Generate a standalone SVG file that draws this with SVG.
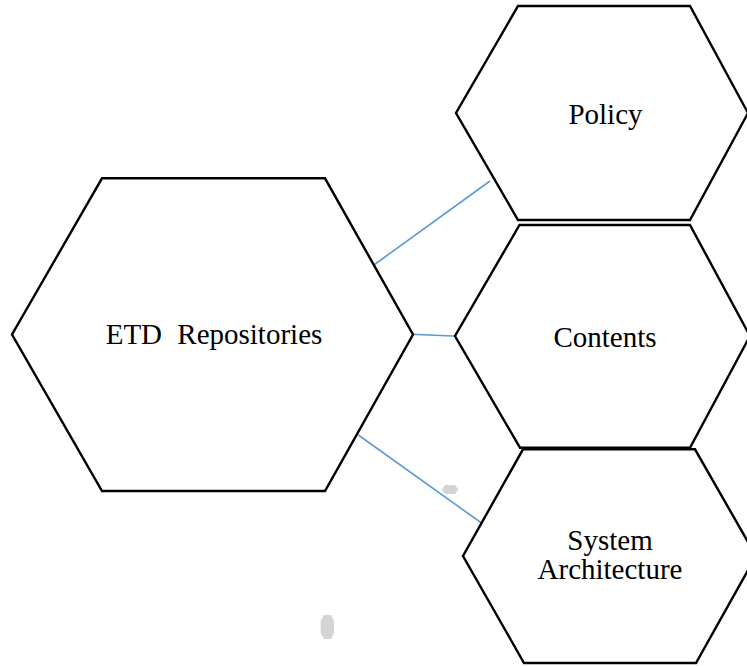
<svg xmlns="http://www.w3.org/2000/svg" width="747" height="666" viewBox="0 0 747 666">
<style>
.hex{fill:#ffffff;stroke:#000000;stroke-width:2.4;stroke-linejoin:miter}
.lbl{font-family:"Liberation Serif","Times New Roman",serif;font-size:29px;fill:#000000;text-anchor:middle}
.conn{stroke:#5B9BD5;stroke-width:1.6;fill:none}
.deco{fill:#d4d4d4;stroke:none}
</style>
<rect width="747" height="666" fill="#ffffff"/>
<g id="connectors">
<line class="conn" x1="372.5" y1="266" x2="490" y2="181"/>
<line class="conn" x1="411" y1="334.3" x2="459" y2="336.3"/>
<line class="conn" x1="358.3" y1="435" x2="485.7" y2="526"/>
</g>
<g id="node-etd">
<polygon class="hex" points="102,178.3 325,178.3 413,334.5 325,491 102,491 12,334.5"/>
<text class="lbl" x="214" y="343.5" word-spacing="8">ETD Repositories</text>
</g>
<g id="node-policy">
<polygon class="hex" points="518,6 690,6 748,113 690,220 518,220 456,113"/>
<text class="lbl" x="605.5" y="123.5">Policy</text>
</g>
<g id="node-contents">
<polygon class="hex" points="519.5,225 690,225 750,336 690,447.7 520,447.7 455,336"/>
<text class="lbl" x="605" y="346.5">Contents</text>
</g>
<g id="node-system">
<polygon class="hex" points="523,449.3 695,449.3 756,556 696,663 524,663 463,556"/>
<text class="lbl" x="610" y="550">System</text>
<text class="lbl" x="610" y="579">Architecture</text>
</g>
<g id="decor">
<polygon class="deco" points="445,485 455,485 458.3,489.5 455,494 445,494 441.7,489.5"/>
<polygon class="deco" points="324,615 331,615 334,621 334,633 331,639 324,639 320.7,633 320.7,621"/>
</g>
</svg>
